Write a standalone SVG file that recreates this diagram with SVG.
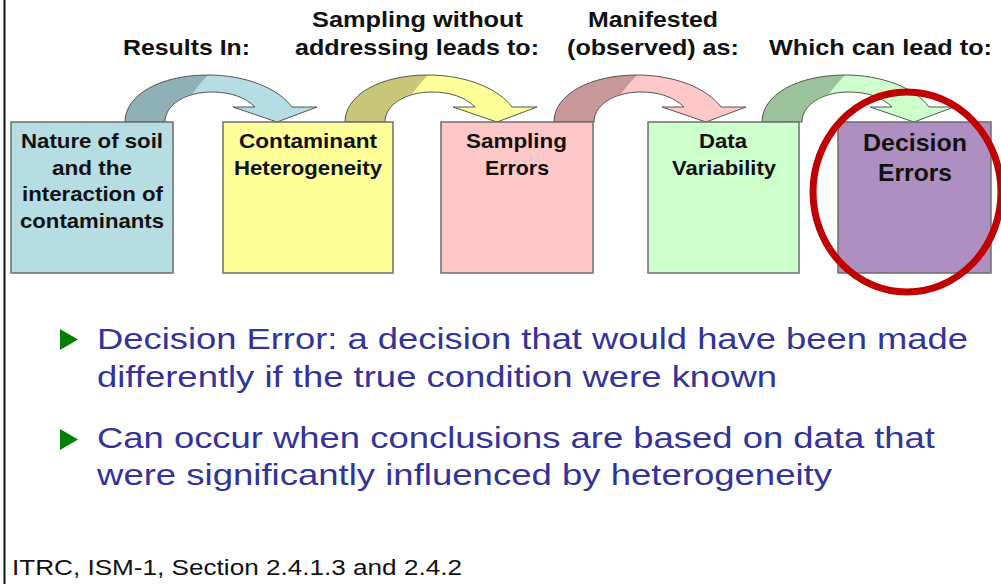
<svg xmlns="http://www.w3.org/2000/svg" width="1001" height="584" viewBox="0 0 1001 584">
<style>
.lbl{font-family:"Liberation Sans",Arial,sans-serif;font-weight:bold;font-size:22px;fill:#111}
.bt{font-family:"Liberation Sans",Arial,sans-serif;font-weight:bold;font-size:21px;fill:#111}
.bt2{font-family:"Liberation Sans",Arial,sans-serif;font-weight:bold;font-size:24px;fill:#111}
.bul{font-family:"Liberation Sans",Arial,sans-serif;font-size:30px;fill:#333399}
.foot{font-family:"Liberation Sans",Arial,sans-serif;font-size:22px;fill:#111}
.box{stroke:#6e6e6e;stroke-width:1.5}
.edge{fill:none;stroke:#555;stroke-width:1}
</style>
<defs>
<path id="arrowFull" d="M125,122 C125,95 160,75 208,75 C245,75 278,88 292,107 L317,107 L277,122 L233,107 L255,107 C245,97 230,92 212,92 C185,92 165,105 165,122 Z"/>
<path id="arrowDark" d="M125,122 C125,95 160,75 208,75 Q199,84 192,94 C178,98 165,108 165,122 Z"/>
</defs>
<rect x="0" y="0" width="1001" height="584" fill="#ffffff"/>
<line x1="4.5" y1="0" x2="4.5" y2="584" stroke="#111" stroke-width="2"/>

<g id="connectors">
  <g id="arrow1">
    <use href="#arrowFull" fill="#b6dde4"/>
    <use href="#arrowDark" fill="#8fb0b6"/>
    <use href="#arrowFull" class="edge"/>
  </g>
  <g id="arrow2" transform="translate(220,0)">
    <use href="#arrowFull" fill="#ffff99"/>
    <use href="#arrowDark" fill="#c9c67a"/>
    <use href="#arrowFull" class="edge"/>
  </g>
  <g id="arrow3" transform="translate(429,0)">
    <use href="#arrowFull" fill="#ffc8c8"/>
    <use href="#arrowDark" fill="#c89898"/>
    <use href="#arrowFull" class="edge"/>
  </g>
  <g id="arrow4" transform="translate(637,0)">
    <use href="#arrowFull" fill="#ccffcc"/>
    <use href="#arrowDark" fill="#9bc29b"/>
    <use href="#arrowFull" class="edge"/>
  </g>
</g>

<g id="labels">
  <text class="lbl" x="123" y="55" textLength="127" lengthAdjust="spacingAndGlyphs">Results In:</text>
  <text class="lbl" x="312" y="27" textLength="211" lengthAdjust="spacingAndGlyphs">Sampling without</text>
  <text class="lbl" x="295" y="55" textLength="244" lengthAdjust="spacingAndGlyphs">addressing leads to:</text>
  <text class="lbl" x="588" y="27" textLength="130" lengthAdjust="spacingAndGlyphs">Manifested</text>
  <text class="lbl" x="567" y="55" textLength="172" lengthAdjust="spacingAndGlyphs">(observed) as:</text>
  <text class="lbl" x="769" y="55" textLength="223" lengthAdjust="spacingAndGlyphs">Which can lead to:</text>
</g>

<g id="node1">
  <rect class="box" x="11" y="122" width="162" height="151" fill="#b6dde4"/>
  <text class="bt" x="21" y="148" textLength="142" lengthAdjust="spacingAndGlyphs">Nature of soil</text>
  <text class="bt" x="52" y="175" textLength="80" lengthAdjust="spacingAndGlyphs">and the</text>
  <text class="bt" x="22" y="201" textLength="141" lengthAdjust="spacingAndGlyphs">interaction of</text>
  <text class="bt" x="20" y="228" textLength="144" lengthAdjust="spacingAndGlyphs">contaminants</text>
</g>
<g id="node2">
  <rect class="box" x="223" y="122" width="170" height="151" fill="#ffff99"/>
  <text class="bt" x="239" y="148" textLength="138" lengthAdjust="spacingAndGlyphs">Contaminant</text>
  <text class="bt" x="234" y="175" textLength="148" lengthAdjust="spacingAndGlyphs">Heterogeneity</text>
</g>
<g id="node3">
  <rect class="box" x="441" y="122" width="152" height="151" fill="#ffc8c8"/>
  <text class="bt" x="466" y="148" textLength="101" lengthAdjust="spacingAndGlyphs">Sampling</text>
  <text class="bt" x="485" y="175" textLength="64" lengthAdjust="spacingAndGlyphs">Errors</text>
</g>
<g id="node4">
  <rect class="box" x="648" y="122" width="151" height="151" fill="#ccffcc"/>
  <text class="bt" x="699" y="148" textLength="48" lengthAdjust="spacingAndGlyphs">Data</text>
  <text class="bt" x="672" y="175" textLength="104" lengthAdjust="spacingAndGlyphs">Variability</text>
</g>
<g id="node5">
  <rect class="box" x="838" y="122" width="153" height="151" fill="#af8fc2"/>
  <text class="bt2" x="863" y="151" textLength="104" lengthAdjust="spacingAndGlyphs">Decision</text>
  <text class="bt2" x="878" y="181" textLength="74" lengthAdjust="spacingAndGlyphs">Errors</text>
</g>

<ellipse id="highlight" cx="907" cy="192" rx="94" ry="100" fill="none" stroke="#c00000" stroke-width="7"/>

<g id="bullets">
  <polygon points="60,329 78,339.5 60,350" fill="#008000"/>
  <text class="bul" x="97" y="349" textLength="871" lengthAdjust="spacingAndGlyphs">Decision Error: a decision that would have been made</text>
  <text class="bul" x="97" y="387" textLength="680" lengthAdjust="spacingAndGlyphs">differently if the true condition were known</text>
  <polygon points="60,429 78,439.5 60,450" fill="#008000"/>
  <text class="bul" x="97" y="448" textLength="838" lengthAdjust="spacingAndGlyphs">Can occur when conclusions are based on data that</text>
  <text class="bul" x="97" y="485" textLength="735" lengthAdjust="spacingAndGlyphs">were significantly influenced by heterogeneity</text>
</g>

<text class="foot" x="12" y="575" textLength="450" lengthAdjust="spacingAndGlyphs">ITRC, ISM-1, Section 2.4.1.3 and 2.4.2</text>
</svg>
